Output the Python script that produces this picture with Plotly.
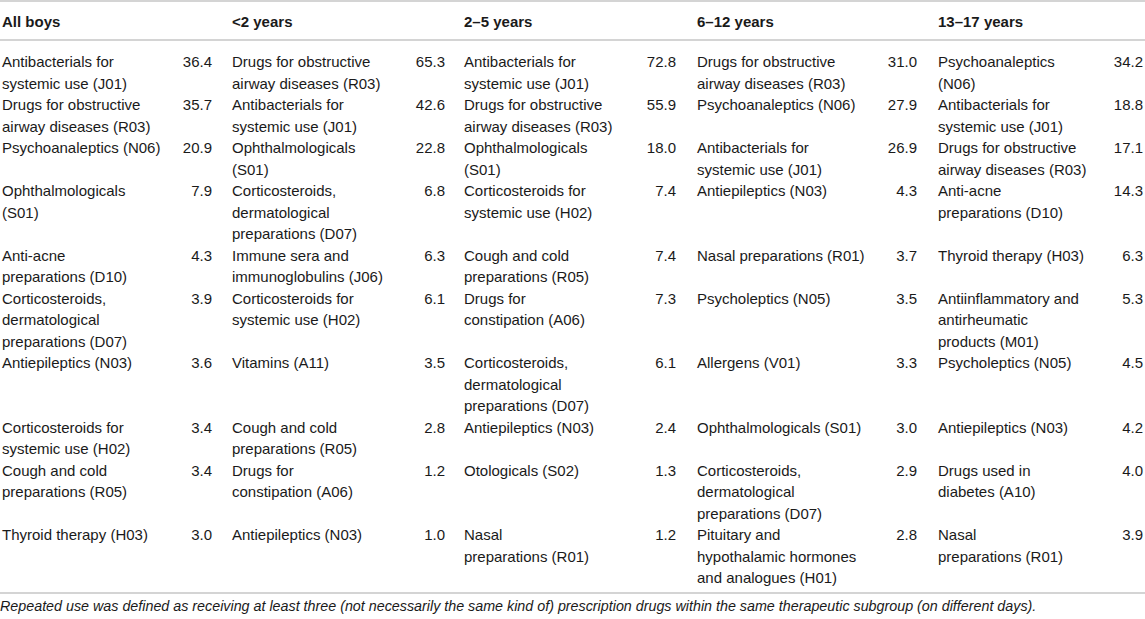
import plotly.graph_objects as go

# table content, one list per age group
groups = ["All boys", "<2 years", "2–5 years", "6–12 years", "13–17 years"]

all_boys = ["Antibacterials for<br>systemic use (J01)",
            "Drugs for obstructive<br>airway diseases (R03)",
            "Psychoanaleptics (N06)",
            "Ophthalmologicals<br>(S01)",
            "Anti-acne<br>preparations (D10)",
            "Corticosteroids,<br>dermatological<br>preparations (D07)",
            "Antiepileptics (N03)",
            "Corticosteroids for<br>systemic use (H02)",
            "Cough and cold<br>preparations (R05)",
            "Thyroid therapy (H03)"]
all_boys_val = [36.4, 35.7, 20.9, 7.9, 4.3, 3.9, 3.6, 3.4, 3.4, 3.0]

under2 = ["Drugs for obstructive<br>airway diseases (R03)",
          "Antibacterials for<br>systemic use (J01)",
          "Ophthalmologicals<br>(S01)",
          "Corticosteroids,<br>dermatological<br>preparations (D07)",
          "Immune sera and<br>immunoglobulins (J06)",
          "Corticosteroids for<br>systemic use (H02)",
          "Vitamins (A11)",
          "Cough and cold<br>preparations (R05)",
          "Drugs for<br>constipation (A06)",
          "Antiepileptics (N03)"]
under2_val = [65.3, 42.6, 22.8, 6.8, 6.3, 6.1, 3.5, 2.8, 1.2, 1.0]

age2_5 = ["Antibacterials for<br>systemic use (J01)",
          "Drugs for obstructive<br>airway diseases (R03)",
          "Ophthalmologicals<br>(S01)",
          "Corticosteroids for<br>systemic use (H02)",
          "Cough and cold<br>preparations (R05)",
          "Drugs for<br>constipation (A06)",
          "Corticosteroids,<br>dermatological<br>preparations (D07)",
          "Antiepileptics (N03)",
          "Otologicals (S02)",
          "Nasal<br>preparations (R01)"]
age2_5_val = [72.8, 55.9, 18.0, 7.4, 7.4, 7.3, 6.1, 2.4, 1.3, 1.2]

age6_12 = ["Drugs for obstructive<br>airway diseases (R03)",
           "Psychoanaleptics (N06)",
           "Antibacterials for<br>systemic use (J01)",
           "Antiepileptics (N03)",
           "Nasal preparations (R01)",
           "Psycholeptics (N05)",
           "Allergens (V01)",
           "Ophthalmologicals (S01)",
           "Corticosteroids,<br>dermatological<br>preparations (D07)",
           "Pituitary and<br>hypothalamic hormones<br>and analogues (H01)"]
age6_12_val = [31.0, 27.9, 26.9, 4.3, 3.7, 3.5, 3.3, 3.0, 2.9, 2.8]

age13_17 = ["Psychoanaleptics<br>(N06)",
            "Antibacterials for<br>systemic use (J01)",
            "Drugs for obstructive<br>airway diseases (R03)",
            "Anti-acne<br>preparations (D10)",
            "Thyroid therapy (H03)",
            "Antiinflammatory and<br>antirheumatic<br>products (M01)",
            "Psycholeptics (N05)",
            "Antiepileptics (N03)",
            "Drugs used in<br>diabetes (A10)",
            "Nasal<br>preparations (R01)"]
age13_17_val = [34.2, 18.8, 17.1, 14.3, 6.3, 5.3, 4.5, 4.2, 4.0, 3.9]

footnote = ("Repeated use was defined as receiving at least three (not necessarily the same kind of) "
            "prescription drugs within the same therapeutic subgroup (on different days).")

names = [all_boys, under2, age2_5, age6_12, age13_17]
values = [all_boys_val, under2_val, age2_5_val, age6_12_val, age13_17_val]

# layout of the table (pixel units on hidden axes)
W, H = 1145, 619
name_x = [2, 232, 464, 697, 938]
val_x = [212, 445, 676, 917, 1143]
line_h = 21.5
first_y = 63.5
head_y = 23
txt = "#1a1a1a"
rule = "#d4d4d4"

# rows are as tall as their longest cell
n_lines = [max(len(col[r].split("<br>")) for col in names) for r in range(len(all_boys))]
row_y = []
y = first_y
for n in n_lines:
    row_y.append(y)
    y += n * line_h

fig = go.Figure()

# header
fig.add_trace(go.Scatter(x=name_x, y=[head_y] * len(groups), mode="text", text=["<b>%s</b>" % g for g in groups],
                         textposition="middle right", textfont=dict(size=15, color=txt),
                         hoverinfo="skip", showlegend=False))

for c in range(len(groups)):
    xs, ys, tx = [], [], []
    for r, label in enumerate(names[c]):
        for k, part in enumerate(label.split("<br>")):
            xs.append(name_x[c])
            ys.append(row_y[r] + k * line_h)
            tx.append(part)
    fig.add_trace(go.Scatter(x=xs, y=ys, mode="text", text=tx, textposition="middle right",
                             textfont=dict(size=15, color=txt), hoverinfo="skip", showlegend=False))
    fig.add_trace(go.Scatter(x=[val_x[c]] * len(values[c]), y=row_y, mode="text",
                             text=["%.1f" % v for v in values[c]], textposition="middle left",
                             textfont=dict(size=15, color=txt), hoverinfo="skip", showlegend=False))

# footnote
fig.add_trace(go.Scatter(x=[0], y=[607], mode="text", text=["<i>%s</i>" % footnote],
                         textposition="middle right", textfont=dict(size=14.3, color=txt),
                         hoverinfo="skip", showlegend=False))

# horizontal rules
for yy in [1, 40, 593]:
    fig.add_shape(type="line", x0=0, x1=W, y0=yy, y1=yy, xref="x", yref="y",
                  line=dict(color=rule, width=2))

fig.update_xaxes(range=[0, W], visible=False, fixedrange=True)
fig.update_yaxes(range=[H, 0], visible=False, fixedrange=True)
fig.update_layout(width=W, height=H, margin=dict(l=0, r=0, t=0, b=0),
                  plot_bgcolor="white", paper_bgcolor="white",
                  font=dict(family="Liberation Sans, Arial, sans-serif", color=txt))

fig.write_html("out.html", config={"displayModeBar": False},
               post_script="document.body.style.margin='0';document.body.style.overflow='hidden';")
